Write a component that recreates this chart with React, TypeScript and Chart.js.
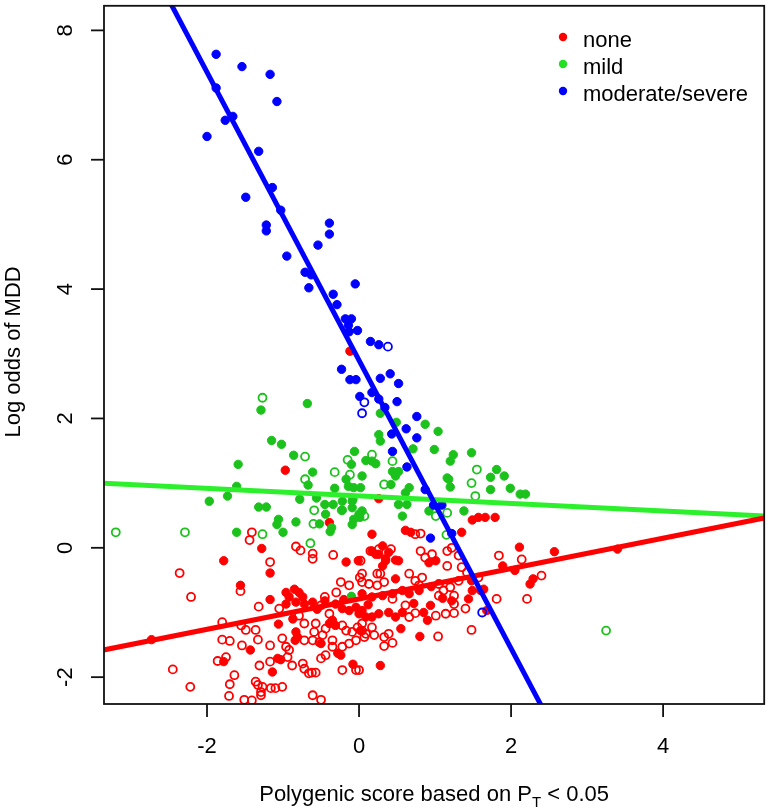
import { useEffect, useRef } from "react";
import { Chart, registerables } from "chart.js";

Chart.register(...registerables);

const FONT = '"Liberation Sans", Arial, Helvetica, sans-serif';

// ---- axis set-up ----
const xRange = [-3.355, 5.33];
const yRange = [-2.415, 8.38];
const xTicks = [-2, 0, 2, 4];
const yTicks = [-2, 0, 2, 4, 6, 8];
const xTitleParts = ["Polygenic score based on P", "T", " < 0.05"];
const yTitle = "Log odds of MDD";
const legendLabels = ["none", "mild", "moderate/severe"];

// ---- data: [score, log odds] ----
const severeFilled = [
  [-1.88, 7.63], [-1.54, 7.44], [-1.17, 7.32], [-1.88, 7.11], [-1.08, 6.9], [-1.66, 6.67], [-1.76, 6.61],
  [-2.0, 6.36], [-1.32, 6.13], [-1.14, 5.57], [-1.49, 5.42], [-1.03, 5.22], [-1.22, 4.99], [-1.22, 4.9],
  [-0.39, 5.02], [-0.39, 4.85], [-0.54, 4.68], [-0.95, 4.51], [-0.71, 4.26], [-0.63, 4.22], [-0.66, 4.02],
  [-0.05, 4.08], [-0.34, 3.92], [-0.29, 3.76], [-0.18, 3.54], [-0.1, 3.54], [-0.14, 3.44], [-0.02, 3.36],
  [-0.13, 3.34], [0.15, 3.19], [0.26, 3.14], [-0.23, 2.76], [-0.12, 2.6], [-0.04, 2.6], [0.28, 2.62],
  [0.41, 2.69], [0.52, 2.54], [0.17, 2.4], [0.01, 2.34], [0.26, 2.3], [0.34, 2.17], [0.5, 2.26],
  [0.76, 2.03], [0.62, 1.84], [0.43, 1.76], [0.76, 1.7], [0.44, 1.49], [0.63, 1.25], [0.87, 0.9],
  [0.98, 0.66], [1.09, 0.66], [1.22, 0.22], [0.94, 0.15],
];
const severeOpen = [[0.38, 3.11], [0.07, 2.25], [0.04, 2.08], [1.62, -1.0]];

const mildFilled = [
  [-1.29, 2.13], [-0.68, 2.23], [-1.15, 1.66], [-1.02, 1.6], [-0.86, 1.43], [-1.59, 1.29], [-0.61, 1.17],
  [-0.06, 1.49], [-0.1, 1.29], [-0.67, 0.97], [-1.61, 0.95], [-1.73, 0.8], [-1.97, 0.72], [-0.78, 0.75],
  [-0.56, 0.77], [-0.32, 0.92], [-0.14, 0.95], [-0.08, 0.75], [-1.32, 0.63], [-1.22, 0.63], [-0.45, 0.67],
  [-0.34, 0.67], [-0.44, 0.52], [-0.23, 0.58], [-1.06, 0.44], [-1.08, 0.36], [-0.83, 0.4], [-0.52, 0.37],
  [-0.36, 0.31], [-0.38, 0.25], [-0.09, 0.36], [0.01, 0.47], [-1.61, 0.24], [-1.0, 0.24], [-0.1, -0.75],
  [0.28, 2.08], [0.87, 1.91], [1.04, 1.8], [0.26, 1.75], [0.28, 1.65], [0.49, 1.94], [0.71, 1.53],
  [0.99, 1.52], [1.24, 1.44], [1.2, 1.34], [1.48, 1.47], [0.09, 1.35], [0.17, 1.34], [0.22, 1.3],
  [0.04, 1.11], [0.44, 1.18], [0.52, 1.18], [0.48, 1.11], [1.18, 1.06], [1.16, 1.08], [1.2, 0.94],
  [1.81, 1.21], [1.73, 1.09], [1.91, 1.11], [-0.17, 1.06], [-0.07, 0.93], [0.02, 0.93], [0.42, 0.98],
  [0.66, 0.93], [0.61, 0.85], [1.73, 0.9], [1.99, 0.92], [2.12, 0.83], [2.19, 0.83], [0.52, 0.67],
  [0.63, 0.67], [0.57, 0.49], [-0.22, 0.72], [-0.09, 0.72], [-0.22, 0.58], [-0.09, 0.62], [0.0, 0.52],
  [0.04, 0.57], [-0.07, 0.44], [0.92, 0.57], [1.38, 0.57],
];
const mildOpen = [
  [-1.27, 2.32], [-0.71, 1.41], [-0.32, 1.17], [-0.15, 1.36], [-0.12, 1.13], [-0.71, 1.06], [-0.59, 0.58],
  [-0.6, 0.37], [-1.27, 0.21], [-3.2, 0.24], [-2.29, 0.24], [-0.64, 0.07], [0.17, 1.44], [0.44, 1.34],
  [1.55, 1.21], [1.48, 1.0], [0.33, 0.98], [1.53, 0.8], [0.07, 0.49], [0.0, 0.49], [1.16, 0.54],
  [1.01, 0.49], [1.15, 0.2], [3.25, -1.28],
];

const noneFilled = [
  [-0.12, 3.04], [-0.97, 1.2], [-0.39, 0.39], [0.26, 0.76], [-1.28, -0.01], [-1.78, -0.2], [-1.17, -0.39],
  [-1.56, -0.58], [-1.17, -0.8], [-0.17, -0.22], [-0.01, -0.2], [-2.73, -1.42], [-1.43, -1.58], [-1.06, -1.18],
  [-1.07, -1.71], [-1.03, -1.73], [-1.78, -1.76], [-1.14, -1.92], [-0.96, -0.69], [-0.85, -0.64], [-0.79, -0.69],
  [-0.74, -0.76], [-0.92, -0.76], [-0.83, -0.84], [-0.96, -0.87], [-0.72, -0.87], [-0.61, -0.84], [-0.87, -1.1],
  [-0.83, -1.3], [-0.81, -1.38], [-0.84, -1.43], [-0.5, -1.48], [-0.35, -1.12], [-0.39, -1.17], [-0.31, -1.2],
  [-0.28, -1.63], [-0.24, -1.66], [-0.31, -0.87], [-0.22, -0.94], [-0.13, -0.97], [-0.04, -0.92], [0.04, -0.97],
  [0.09, -1.07], [-0.08, -1.8], [0.28, -1.82], [0.02, -1.28], [0.04, -0.71], [0.17, -0.76], [0.31, -0.74],
  [0.44, -0.71], [0.57, -0.66], [0.66, -0.71], [0.79, -0.66], [0.0, -1.02], [0.17, -1.07], [0.26, -1.02],
  [0.39, -1.0], [0.48, -1.07], [0.57, -1.0], [0.48, -0.48], [0.17, -0.05], [0.26, -0.1], [0.35, -0.17],
  [0.31, -0.28], [0.48, -0.19], [0.31, 0.03], [0.39, -0.07], [0.22, -0.1], [0.35, -0.2], [0.52, -0.2],
  [0.55, -1.25], [0.9, -1.12], [0.85, -1.0], [0.94, -0.89], [0.8, -1.37], [0.92, -0.23], [1.01, -0.2],
  [1.22, -0.82], [1.44, -0.79], [1.49, -0.66], [1.48, -0.51], [1.6, -0.66], [1.64, -0.64], [1.68, -0.97],
  [1.49, 0.43], [1.57, 0.47], [1.66, 0.47], [1.79, 0.47], [1.35, 0.24], [0.61, 0.27], [0.68, 0.24],
  [0.17, 0.21], [2.11, 0.01], [2.57, -0.06], [3.4, -0.02], [1.89, -0.28], [2.05, -0.35], [2.29, -0.48],
  [2.25, -0.56], [-0.55, -0.95], [-0.45, -0.82], [0.12, -0.88], [0.72, -0.86], [1.1, -0.78], [-0.2, -0.8],
  [0.95, -0.6],
];
const noneOpen = [
  [-1.41, 0.24], [-1.44, 0.12], [-0.83, 0.02], [-0.77, -0.04], [-1.17, -0.22], [-0.61, -0.09], [-0.61, -0.17],
  [-0.34, -0.11], [-2.36, -0.39], [-1.56, -0.67], [-2.21, -0.76], [-1.32, -0.91], [-0.24, -0.53], [0.01, -0.46],
  [-0.13, -0.58], [0.04, -0.53], [0.24, -0.4], [-1.8, -1.15], [-0.45, -0.76], [-0.3, -0.69], [-2.45, -1.88],
  [-2.22, -2.15], [-1.8, -1.42], [-1.7, -1.44], [-1.54, -1.51], [-1.17, -1.51], [-1.33, -1.42], [-1.49, -1.27],
  [-1.36, -1.27], [-1.55, -1.2], [-1.01, -1.4], [-0.96, -1.53], [-0.92, -1.58], [-0.94, -1.69], [-1.86, -1.75],
  [-1.75, -1.69], [-1.31, -1.82], [-1.17, -1.76], [-0.88, -1.82], [-1.64, -1.97], [-1.7, -2.11], [-1.71, -2.29],
  [-1.51, -2.35], [-1.41, -2.36], [-1.36, -2.07], [-1.33, -2.12], [-1.27, -2.15], [-1.29, -2.23], [-1.29, -2.28],
  [-1.1, -2.17], [-1.01, -2.15], [-0.74, -1.79], [-0.62, -1.93], [-0.57, -1.93], [-0.61, -2.28], [-0.5, -2.35],
  [-1.05, -0.94], [-0.5, -0.89], [-0.39, -1.02], [-0.79, -1.05], [-0.72, -1.17], [-0.57, -1.17], [-0.72, -1.43],
  [-0.61, -1.43], [-0.52, -1.46], [-0.59, -1.3], [-0.48, -1.35], [-0.44, -1.25], [-0.22, -1.2], [-0.17, -1.28],
  [-0.09, -1.3], [-0.02, -1.23], [0.04, -1.28], [0.07, -1.38], [-0.04, -1.43], [-0.13, -1.48], [-0.22, -1.53],
  [-0.35, -1.43], [-0.35, -1.53], [-0.72, -1.87], [-0.66, -1.94], [-0.5, -1.71], [-0.44, -1.66], [-0.22, -1.89],
  [-0.04, -1.89], [-1.16, -2.17], [1.84, -0.12], [2.14, -0.18], [1.81, -0.79], [2.21, -0.79], [1.48, -1.27],
  [1.04, -1.37], [0.33, -1.52], [0.44, -1.47], [0.33, -1.38], [0.39, -1.33], [1.01, -1.05], [1.14, -1.02],
  [1.25, -1.01], [0.74, -1.01], [0.66, -1.07], [1.05, -0.74], [1.25, -0.74], [1.25, -0.87], [1.4, -0.94],
  [1.31, -0.51], [1.42, -0.38], [1.35, -0.3], [0.81, -0.05], [0.87, -0.15], [0.96, -0.1], [1.16, -0.05],
  [1.16, -0.28], [1.22, 0.0], [1.31, -0.12], [0.15, -0.05], [0.42, -0.02], [0.26, -0.02], [0.02, -0.2],
  [0.04, -0.4], [0.13, -0.56], [0.24, -0.58], [0.33, -0.53], [0.28, -0.4], [0.66, -0.4], [0.74, -0.51],
  [0.83, -0.46], [0.79, -0.58], [1.05, -0.56], [1.11, -0.66], [1.2, -0.61], [0.44, -0.79], [0.61, -0.89],
  [0.04, -1.17], [0.17, -1.23], [0.09, -1.33], [0.2, -1.35], [0.0, -1.89], [1.57, -0.46], [0.81, 0.22],
  [0.74, 0.21], [2.4, -0.43],
];

// fitted lines: end points
const noneLine = [[-3.36, -1.58], [5.33, 0.46]];
const mildLine = [[-3.36, 1.0], [5.33, 0.49]];
const severeLine = [[-2.6, 8.69], [2.5, -2.67]];

const RED = "#ff0000";
const GREEN_PT = "#1cc21c";
const GREEN_LINE = "#2cf02c";
const GREEN_LEG = "#22e022";
const BLUE = "#0000ff";

const toXY = (arr: number[][]) => arr.map(([x, y]) => ({ x, y }));

function filledSet(data: number[][], color: string, order: number) {
  return {
    type: "scatter" as const,
    data: toXY(data),
    backgroundColor: color,
    borderColor: color,
    borderWidth: 1,
    pointRadius: 4.2,
    pointHoverRadius: 4.2,
    showLine: false,
    clip: 0,
    order,
  };
}
function openSet(data: number[][], color: string, order: number) {
  return {
    type: "scatter" as const,
    data: toXY(data),
    backgroundColor: "rgba(0,0,0,0)",
    borderColor: color,
    borderWidth: 1.8,
    pointRadius: 4,
    pointHoverRadius: 4,
    showLine: false,
    clip: 0,
    order,
  };
}
function lineSet(data: number[][], color: string, order: number) {
  return {
    type: "line" as const,
    data: toXY(data),
    borderColor: color,
    backgroundColor: color,
    borderWidth: 5,
    pointRadius: 0,
    fill: false,
    tension: 0,
    clip: 0,
    order,
  };
}

const rAxesPlugin = {
  id: "rAxes",
  afterDraw(chart: any) {
    const { ctx, chartArea: a, scales } = chart;
    const xs = scales.x;
    const ys = scales.y;
    ctx.save();
    ctx.strokeStyle = "#111";
    ctx.fillStyle = "#000";
    ctx.lineWidth = 1.8;
    ctx.strokeRect(a.left, a.top, a.right - a.left, a.bottom - a.top);

    ctx.font = `22px ${FONT}`;
    ctx.textAlign = "center";
    ctx.textBaseline = "middle";
    for (const t of xTicks) {
      const px = xs.getPixelForValue(t);
      ctx.beginPath();
      ctx.moveTo(px, a.bottom);
      ctx.lineTo(px, a.bottom + 13);
      ctx.stroke();
      ctx.fillText(String(t), px, a.bottom + 43);
    }
    for (const t of yTicks) {
      const py = ys.getPixelForValue(t);
      ctx.beginPath();
      ctx.moveTo(a.left - 13, py);
      ctx.lineTo(a.left, py);
      ctx.stroke();
      ctx.save();
      ctx.translate(a.left - 38, py);
      ctx.rotate(-Math.PI / 2);
      ctx.fillText(String(t), 0, 0);
      ctx.restore();
    }

    // y title
    ctx.save();
    ctx.translate(14, (a.top + a.bottom) / 2 - 3);
    ctx.rotate(-Math.PI / 2);
    ctx.fillText(yTitle, 0, 0);
    ctx.restore();

    // x title with subscript
    ctx.textAlign = "left";
    ctx.textBaseline = "alphabetic";
    const big = `22px ${FONT}`;
    const small = `15px ${FONT}`;
    ctx.font = big;
    const w1 = ctx.measureText(xTitleParts[0]).width;
    const w3 = ctx.measureText(xTitleParts[2]).width;
    ctx.font = small;
    const w2 = ctx.measureText(xTitleParts[1]).width;
    const cx = (a.left + a.right) / 2;
    const base = a.bottom + 97;
    const x0 = cx - (w1 + w2 + w3) / 2;
    ctx.font = big;
    ctx.fillText(xTitleParts[0], x0, base);
    ctx.font = small;
    ctx.fillText(xTitleParts[1], x0 + w1, base + 6);
    ctx.font = big;
    ctx.fillText(xTitleParts[2], x0 + w1 + w2, base);

    // legend
    const legColors = [RED, GREEN_LEG, BLUE];
    ctx.font = big;
    legendLabels.forEach((lab, i) => {
      const y = 37 + i * 27;
      ctx.beginPath();
      ctx.fillStyle = legColors[i];
      ctx.arc(563, y, 4.2, 0, Math.PI * 2);
      ctx.fill();
      ctx.fillStyle = "#000";
      ctx.fillText(lab, 583, y + 10);
    });
    ctx.restore();
  },
};

export default function App() {
  const ref = useRef<HTMLCanvasElement | null>(null);
  useEffect(() => {
    if (!ref.current) return;
    const chart = new Chart(ref.current, {
      type: "scatter",
      data: {
        datasets: [
          lineSet(severeLine, BLUE, 0),
          lineSet(noneLine, RED, 1),
          lineSet(mildLine, GREEN_LINE, 2),
          filledSet(severeFilled, BLUE, 3),
          openSet(severeOpen, BLUE, 4),
          filledSet(mildFilled, GREEN_PT, 5),
          openSet(mildOpen, GREEN_PT, 6),
          filledSet(noneFilled, RED, 7),
          openSet(noneOpen, RED, 8),
        ] as any,
      },
      options: {
        animation: false,
        responsive: false,
        devicePixelRatio: 1,
        events: [],
        layout: { padding: { left: 104, right: 3, top: 2, bottom: 105 } },
        plugins: { legend: { display: false }, tooltip: { enabled: false } },
        scales: {
          x: { type: "linear", min: xRange[0], max: xRange[1], display: false },
          y: { type: "linear", min: yRange[0], max: yRange[1], display: false },
        },
      },
      plugins: [rAxesPlugin],
    });
    return () => chart.destroy();
  }, []);
  return (
    <div style={{ position: "fixed", left: 0, top: 0, width: 770, height: 809, background: "#fff" }}>
      <canvas ref={ref} width={770} height={809} />
    </div>
  );
}
